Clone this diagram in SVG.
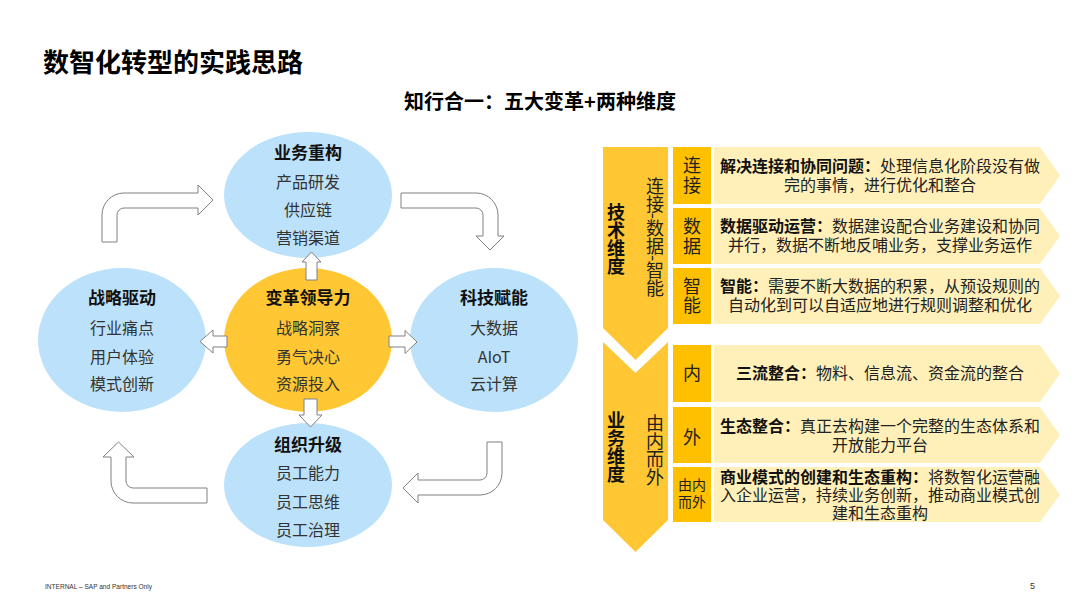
<svg xmlns="http://www.w3.org/2000/svg" width="1080" height="608" viewBox="0 0 1080 608">
<style>
text{font-family:"Noto Sans CJK SC","Noto Sans",sans-serif;fill:#222}
.title{font-size:26px;font-weight:bold;fill:#000}
.sub{font-size:20px;font-weight:bold;fill:#000}
.eh{font-size:17px;font-weight:bold;fill:#111;text-anchor:middle}
.ei{font-size:16px;fill:#333;text-anchor:middle}
.blue{fill:#BBE2FA}
.gold{fill:#FFC733}
.arr{fill:#fff;stroke:#808080;stroke-width:1}
.chev{fill:#FFC733}
.box{fill:#FFC000}
.band{fill:#FFF0B9}
.bx{font-size:18px;text-anchor:middle;fill:#222}
.ds{font-size:16px;text-anchor:middle;fill:#222}
.b{font-weight:bold;fill:#111}
.vt{writing-mode:vertical-rl;font-size:18px;text-anchor:middle}
.foot{font-family:"Liberation Sans",sans-serif;font-size:7px;fill:#333}
</style>
<rect width="1080" height="608" fill="#fff"/>
<text class="title" x="43" y="72">数智化转型的实践思路</text>
<text class="sub" x="540" y="109" text-anchor="middle">知行合一：五大变革+两种维度</text>

<g id="node-yewu">
<ellipse class="blue" cx="308" cy="195" rx="84" ry="63"/>
<text class="eh" x="308" y="159">业务重构</text>
<text class="ei" x="308" y="188">产品研发</text>
<text class="ei" x="308" y="216">供应链</text>
<text class="ei" x="308" y="244">营销渠道</text>
</g>
<g id="node-zhanlue">
<ellipse class="blue" cx="122" cy="340" rx="84" ry="72"/>
<text class="eh" x="122" y="304">战略驱动</text>
<text class="ei" x="122" y="334">行业痛点</text>
<text class="ei" x="122" y="363">用户体验</text>
<text class="ei" x="122" y="390">模式创新</text>
</g>
<g id="node-keji">
<ellipse class="blue" cx="494" cy="340" rx="84" ry="72"/>
<text class="eh" x="494" y="304">科技赋能</text>
<text class="ei" x="494" y="334">大数据</text>
<text class="ei" x="494" y="363">AIoT</text>
<text class="ei" x="494" y="390">云计算</text>
</g>
<g id="node-zuzhi">
<ellipse class="blue" cx="308" cy="485" rx="84" ry="62"/>
<text class="eh" x="308" y="451">组织升级</text>
<text class="ei" x="308" y="479">员工能力</text>
<text class="ei" x="308" y="508">员工思维</text>
<text class="ei" x="308" y="536">员工治理</text>
</g>
<g id="node-lingdao">
<ellipse class="gold" cx="308" cy="340" rx="84" ry="72"/>
<text class="eh" x="308" y="304">变革领导力</text>
<text class="ei" x="308" y="334">战略洞察</text>
<text class="ei" x="308" y="363">勇气决心</text>
<text class="ei" x="308" y="390">资源投入</text>
</g>

<g id="connectors">
<path class="arr" d="M306,280 V262 H302 L311.5,252 L321,262 H317 V280 Z"/>
<path class="arr" d="M304,399 H317 V415 H322 L310.5,427 L299,415 H304 Z"/>
<path class="arr" d="M227,336 V347 H213 V353 L200,341.5 L213,330 V336 Z"/>
<path class="arr" d="M389,336 H405 V330.5 L417,342 L405,353.5 V347 H389 Z"/>
<path class="arr" d="M102,242 V215 A22,22 0 0 1 124,193 H198 V185 L213,200 L198,215 V208 H124 A7,7 0 0 0 117,215 V242 Z"/>
<path class="arr" d="M401,193 H476 A22,22 0 0 1 498,215 V236 H504 L490,250 L476,236 H483 V215 A7,7 0 0 0 476,208 H401 Z"/>
<path class="arr" d="M487,442 H502 V473 A22,22 0 0 1 480,495 H418 V503 L403,488 L418,473 V480 H480 A7,7 0 0 0 487,473 Z"/>
<path class="arr" d="M207,488 V503 H133 A22,22 0 0 1 111,481 V457 H103 L118.5,442 L134,457 H126 V481 A7,7 0 0 0 133,488 Z"/>
</g>

<g id="node-jishu">
<path class="chev" d="M603,147 H668 V328 L635.5,360 L603,328 Z"/>
<text class="vt b" x="616" y="239">技术维度</text>
<text class="vt" x="655" y="237">连接-数据-智能</text>
</g>
<g id="node-yewuweidu">
<path class="chev" d="M603,342 L635.5,373 L668,342 V520 L635.5,552 L603,520 Z"/>
<text class="vt b" x="616" y="447">业务维度</text>
<text class="vt" x="655" y="450">由内而外</text>
</g>

<g id="row1">
<rect class="box" x="673" y="147" width="38" height="57"/>
<path class="band" d="M714,147 H1040 L1060,175.5 L1040,204 H714 Z"/>
<text class="bx" x="692" y="172">连<tspan x="692" dy="20">接</tspan></text>
<text class="ds" x="880" y="172"><tspan class="b">解决连接和协同问题：</tspan>处理信息化阶段没有做<tspan x="880" dy="19">完的事情，进行优化和整合</tspan></text>
</g>
<g id="row2">
<rect class="box" x="673" y="208" width="38" height="56"/>
<path class="band" d="M714,208 H1040 L1060,236 L1040,264 H714 Z"/>
<text class="bx" x="692" y="233">数<tspan x="692" dy="20">据</tspan></text>
<text class="ds" x="880" y="232"><tspan class="b">数据驱动运营：</tspan>数据建设配合业务建设和协同<tspan x="880" dy="19">并行，数据不断地反哺业务，支撑业务运作</tspan></text>
</g>
<g id="row3">
<rect class="box" x="673" y="268" width="38" height="56"/>
<path class="band" d="M714,268 H1040 L1060,296 L1040,324 H714 Z"/>
<text class="bx" x="692" y="293">智<tspan x="692" dy="19">能</tspan></text>
<text class="ds" x="880" y="292"><tspan class="b">智能：</tspan>需要不断大数据的积累，从预设规则的<tspan x="880" dy="19">自动化到可以自适应地进行规则调整和优化</tspan></text>
</g>
<g id="row4">
<rect class="box" x="673" y="345" width="38" height="57"/>
<path class="band" d="M714,345 H1040 L1060,373.5 L1040,402 H714 Z"/>
<text class="bx" x="692" y="380">内</text>
<text class="ds" x="880" y="379"><tspan class="b">三流整合：</tspan>物料、信息流、资金流的整合</text>
</g>
<g id="row5">
<rect class="box" x="673" y="407" width="38" height="56"/>
<path class="band" d="M714,407 H1040 L1060,435 L1040,463 H714 Z"/>
<text class="bx" x="692" y="444">外</text>
<text class="ds" x="880" y="432"><tspan class="b">生态整合：</tspan>真正去构建一个完整的生态体系和<tspan x="880" dy="19">开放能力平台</tspan></text>
</g>
<g id="row6">
<rect class="box" x="673" y="467" width="38" height="55"/>
<path class="band" d="M714,467 H1040 L1060,494.5 L1040,522 H714 Z"/>
<text class="bx" x="692" y="490" style="font-size:14px">由内<tspan x="692" dy="17">而外</tspan></text>
<text class="ds" x="880" y="483"><tspan class="b">商业模式的创建和生态重构：</tspan>将数智化运营融<tspan x="880" dy="18">入企业运营，持续业务创新，推动商业模式创</tspan><tspan x="880" dy="18">建和生态重构</tspan></text>
</g>

<text class="foot" x="45" y="589" textLength="107" lengthAdjust="spacingAndGlyphs">INTERNAL – SAP and Partners Only</text>
<text class="foot" x="1030" y="589" style="font-size:9px">5</text>
</svg>
